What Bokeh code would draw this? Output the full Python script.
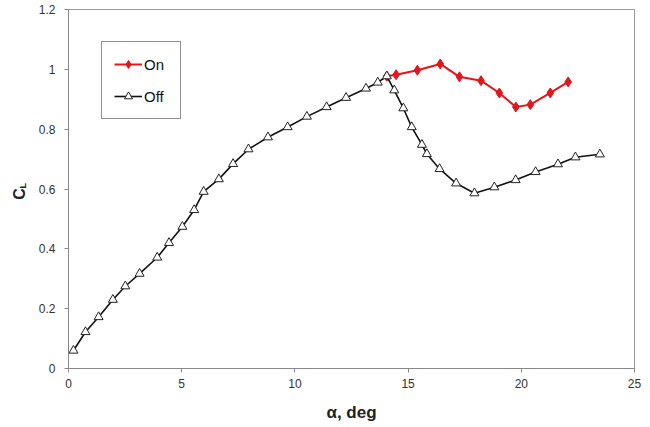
from bokeh.plotting import figure
from bokeh.layouts import row
from bokeh.models import Legend, LegendItem, FixedTicker, Range1d
from bokeh.core.properties import value
from bokeh.embed import file_html
from bokeh.resources import INLINE

# Data
alpha_off = [0.22, 0.75, 1.33, 1.96, 2.51, 3.14, 3.92, 4.44, 5.03, 5.55, 5.97, 6.64,
             7.27, 7.95, 8.81, 9.68, 10.53, 11.40, 12.26, 13.14, 13.66, 14.06,
             14.39, 14.79, 15.16, 15.61, 15.83, 16.39, 17.12, 17.93, 18.81, 19.75,
             20.63, 21.62, 22.39, 23.47]
cl_off = [0.060, 0.122, 0.172, 0.230, 0.275, 0.317, 0.371, 0.420, 0.474, 0.530, 0.591, 0.633,
          0.684, 0.733, 0.773, 0.807, 0.842, 0.874, 0.905, 0.936, 0.956, 0.977,
          0.930, 0.870, 0.807, 0.748, 0.717, 0.667, 0.619, 0.586, 0.606, 0.630,
          0.657, 0.683, 0.706, 0.716]

alpha_on = [14.06, 14.47, 15.41, 16.42, 17.27, 18.22, 19.03, 19.76, 20.40, 21.28, 22.07]
cl_on = [0.977, 0.982, 0.997, 1.018, 0.975, 0.962, 0.921, 0.874, 0.882, 0.921, 0.958]

x_ticks = [0, 5, 10, 15, 20, 25]
y_ticks = [0, 0.2, 0.4, 0.6, 0.8, 1.0, 1.2]
y_tick_labels = ["0", "0.2", "0.4", "0.6", "0.8", "1", "1.2"]

FONT = "Liberation Sans"
RED = "#e3161c"
LW = 30  # width of the strip carrying the y-axis title
H = 427

# narrow strip holding the C_L title (with subscript); 1 data unit = 1 pixel
t = figure(width=LW, height=H, output_backend="svg", toolbar_location=None, title=None,
           x_range=Range1d(0, LW), y_range=Range1d(H, 0),
           x_axis_location=None, y_axis_location=None,
           min_border_left=0, min_border_right=0, min_border_top=0, min_border_bottom=0)
t.outline_line_color = None
t.xgrid.visible = False
t.ygrid.visible = False
t.text(x=[18.5], y=[219.5], text=["C"], angle=1.5708,
       text_font=value(FONT), text_font_size="16px", text_font_style="bold",
       text_color="#222222", text_align="center", text_baseline="middle")
t.text(x=[22.0], y=[209.5], text=["L"], angle=1.5708,
       text_font=value(FONT), text_font_size="9px", text_font_style="bold",
       text_color="#222222", text_align="center", text_baseline="middle")

p = figure(width=650 - LW, height=H, output_backend="svg", toolbar_location=None,
           x_range=Range1d(0, 25), y_range=Range1d(0, 1.2),
           min_border_left=68 - LW, min_border_right=16, min_border_top=9, min_border_bottom=59)

p.xgrid.visible = False
p.ygrid.visible = False
p.outline_line_color = "#999999"
p.outline_line_width = 1

for ax in (p.xaxis[0], p.yaxis[0]):
    ax.axis_line_color = "#888888"
    ax.major_tick_line_color = "#888888"
    ax.major_tick_out = 4
    ax.major_tick_in = 0
    ax.minor_tick_line_color = None
    ax.major_label_text_font = FONT
    ax.major_label_text_font_size = "12px"
    ax.major_label_text_color = "#333333"

p.xaxis.ticker = FixedTicker(ticks=x_ticks)
p.yaxis.ticker = FixedTicker(ticks=y_ticks)
p.yaxis.major_label_overrides = {t_: l for t_, l in zip(y_ticks, y_tick_labels)}
p.xaxis.major_label_standoff = 6
p.yaxis.major_label_standoff = 9

p.xaxis.axis_label = "α, deg"
p.xaxis.axis_label_text_font = FONT
p.xaxis.axis_label_text_font_size = "17px"
p.xaxis.axis_label_text_font_style = "bold"
p.xaxis.axis_label_text_color = "#222222"
p.xaxis.axis_label_standoff = 12

on_line = p.line(alpha_on, cl_on, line_color=RED, line_width=2)
on_mark = p.scatter(alpha_on, cl_on, marker="diamond", size=10,
                    fill_color=RED, line_color=RED)
off_line = p.line(alpha_off, cl_off, line_color="#111111", line_width=1.6)
off_mark = p.scatter(alpha_off, cl_off, marker="triangle", size=9,
                     fill_color="white", line_color="#222222", line_width=1)

legend = Legend(items=[LegendItem(label="On", renderers=[on_line, on_mark]),
                       LegendItem(label="Off", renderers=[off_line, off_mark])],
                location=(33, 249))
legend.label_text_font = FONT
legend.label_text_font_size = "15px"
legend.label_text_color = "#111111"
legend.border_line_color = "#222222"
legend.border_line_width = 1
legend.background_fill_color = "white"
legend.glyph_width = 28
legend.glyph_height = 20
legend.label_standoff = 2
legend.label_width = 24
legend.spacing = 12
legend.padding = 12
legend.margin = 0
p.add_layout(legend, "center")

layout = row(t, p, spacing=0)
open("out.html", "w").write(file_html(layout, INLINE))
